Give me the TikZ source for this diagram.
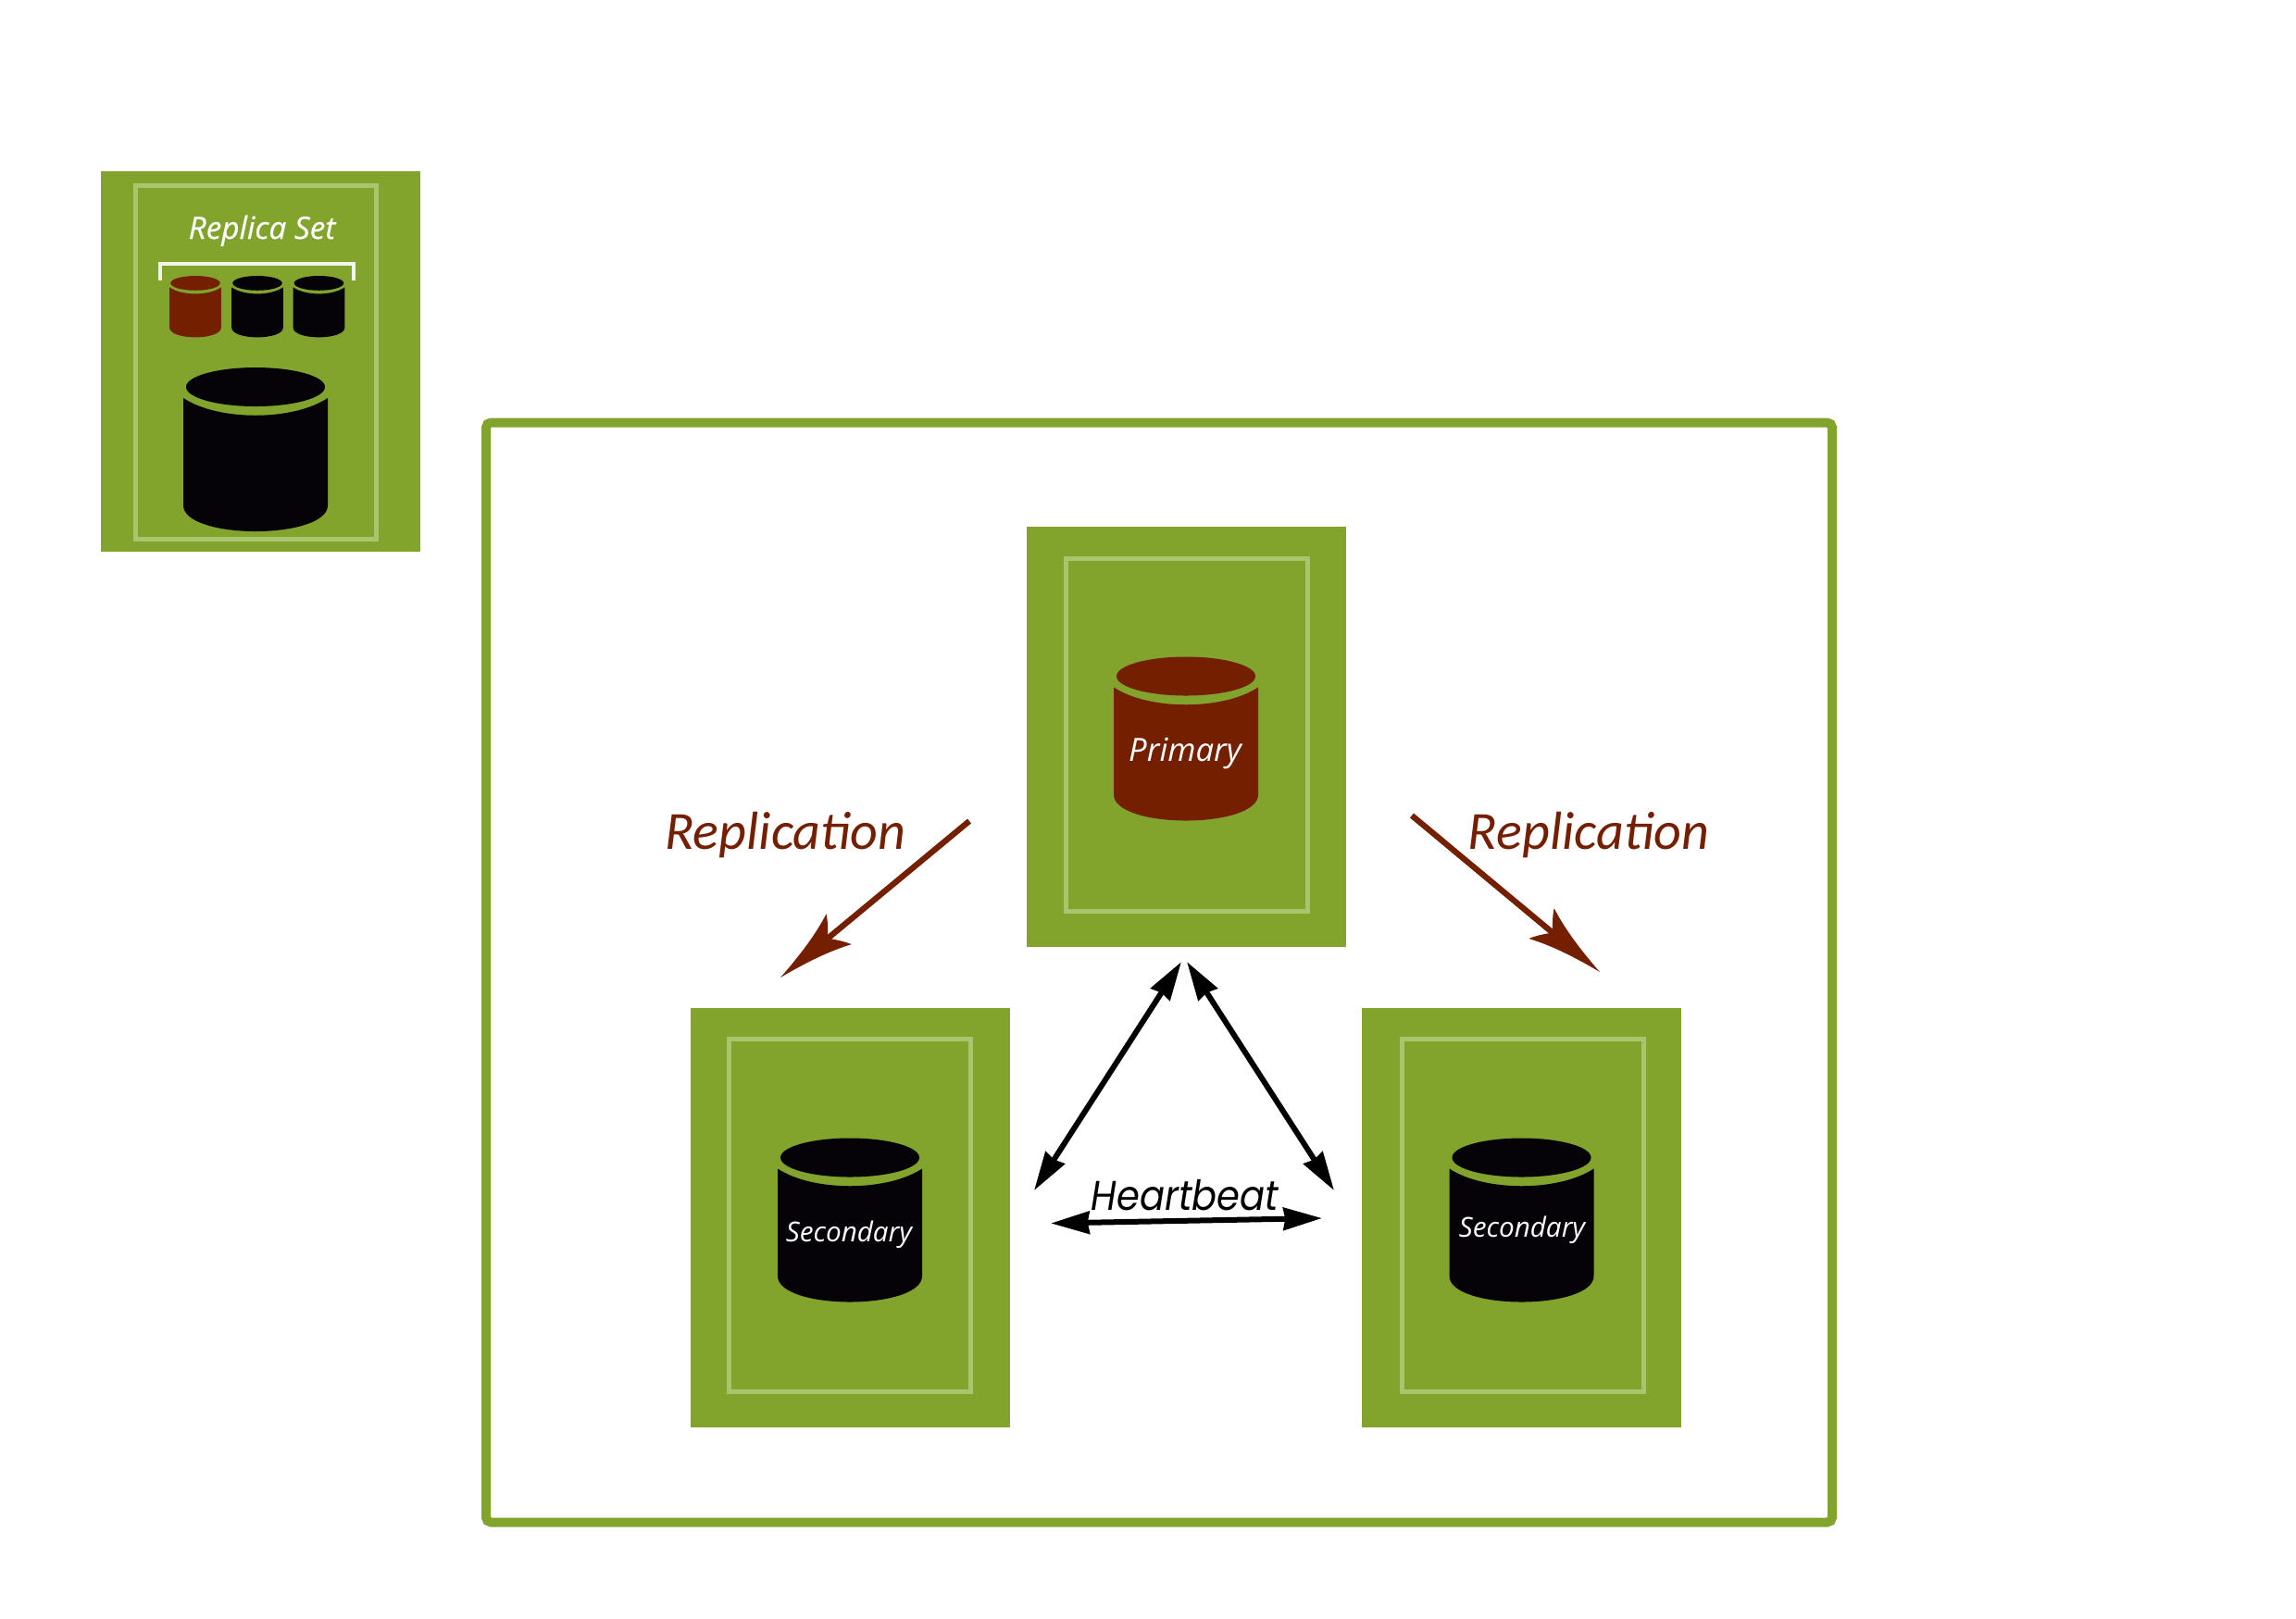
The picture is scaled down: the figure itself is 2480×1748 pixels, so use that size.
\documentclass[tikz,border=0pt]{standalone}
\usepackage{fontspec}
\usetikzlibrary{arrows.meta}
\setmainfont{Open Sans}
\newfontfamily\calibrifont{Carlito}
\newfontfamily\geofont{Poppins}
\newfontfamily\semifont[ItalicFeatures={FakeBold=0.5}]{Open Sans}
\definecolor{leaf}{RGB}{130,164,45}
\definecolor{leaflight}{RGB}{170,197,110}
\definecolor{rust}{RGB}{116,31,0}
\definecolor{ink}{RGB}{5,2,8}
\pgfdeclarearrow{
  name=BarbTip,
  setup code={\pgfarrowssettipend{0pt}\pgfarrowssetlineend{-18pt}\pgfarrowssetvisualbackend{-20pt}},
  drawing code={
    \pgfpathmoveto{\pgfqpoint{0pt}{0pt}}
    \pgfpathcurveto{\pgfqpoint{-10pt}{1.6pt}}{\pgfqpoint{-18pt}{3.6pt}}{\pgfqpoint{-24.6pt}{6.4pt}}
    \pgfpathcurveto{\pgfqpoint{-23pt}{3.4pt}}{\pgfqpoint{-21pt}{1.4pt}}{\pgfqpoint{-20pt}{0pt}}
    \pgfpathcurveto{\pgfqpoint{-21pt}{-1.4pt}}{\pgfqpoint{-23pt}{-3.4pt}}{\pgfqpoint{-24.6pt}{-6.4pt}}
    \pgfpathcurveto{\pgfqpoint{-18pt}{-3.6pt}}{\pgfqpoint{-10pt}{-1.6pt}}{\pgfqpoint{0pt}{0pt}}
    \pgfpathclose
    \pgfusepathqfill
  }
}
\tikzset{
  x=0.3pt, y=-0.3pt,
  panel/.style={fill=leaf, draw=none, inner sep=0pt, outer sep=0pt, minimum width=103.5pt, minimum height=136pt},
  smallpanel/.style={fill=leaf, draw=none, inner sep=0pt, outer sep=0pt, minimum width=103.5pt, minimum height=123.3pt},
  innerbox/.style={draw=leaflight, line width=1.5pt, inner sep=0pt, outer sep=0pt, minimum width=78.3pt, minimum height=114.3pt},
  smallinner/.style={draw=leaflight, line width=1.5pt, inner sep=0pt, outer sep=0pt, minimum width=78pt, minimum height=114.6pt},
  dblabel/.style={text=white, font=\itshape, inner sep=0pt},
  replabel/.style={text=rust, inner sep=0pt, anchor=base, font=\calibrifont\itshape\fontsize{17.4pt}{20pt}\selectfont},
  reparrow/.style={draw=rust, line width=1.9pt, -{BarbTip}},
  beatarrow/.style={draw=black, line width=1.8pt, {Stealth[length=12.5pt,width=7.2pt,inset=0.6pt]}-{Stealth[length=12.5pt,width=7.2pt,inset=0.6pt]}},
  pics/dbcyl/.style={code={
    \fill[#1] (-78,33) .. controls (-40,58) and (40,58) .. (78,33)
      -- (78,149) .. controls (78,167) and (40,177) .. (0,177)
      .. controls (-40,177) and (-78,167) .. (-78,149) -- cycle;
    \fill[#1] (0,21) ellipse [x radius=75, y radius=21];
  }}
}
\begin{document}
\begin{tikzpicture}
\useasboundingbox (0,0) rectangle (2480,1748);
\fill[white] (0,0) rectangle (2480,1748);
% legend panel
\node[smallpanel] (legend) at (281.5,390) {};
\node[smallinner] (legendbox) at (276,391.5) {};
\node[text=white, inner sep=0pt, font=\semifont\itshape\fontsize{10pt}{12pt}\selectfont, anchor=base] (legendtitle) at (283,258) {Replica Set};
\draw[white!90!leaf, line width=1.2pt] (173,303) -- (173,285) -- (382,285) -- (382,303);
\pic[xscale=0.357, yscale=0.375] at (211,298) {dbcyl=rust};
\pic[xscale=0.357, yscale=0.375] at (278,298) {dbcyl=ink};
\pic[xscale=0.357, yscale=0.375] at (344.5,298) {dbcyl=ink};
\pic at (276,397) {dbcyl=ink};
% frame
\node[draw=leaf, line width=3pt, rounded corners=1.6pt, inner sep=0pt, outer sep=0pt, minimum width=436.2pt, minimum height=356.4pt] (frame) at (1252,1050.5) {};
% primary
\node[panel] (primary) at (1281.5,796) {};
\node[innerbox] (primarybox) at (1281.5,794) {};
\pic at (1281,709.5) {dbcyl=rust};
\node[dblabel, font=\itshape\fontsize{10.4pt}{12pt}\selectfont] (primarylabel) at (1280,814) {Primary};
% secondary left
\node[panel] (secleft) at (918.5,1315.5) {};
\node[innerbox] (secleftbox) at (918,1313) {};
\pic at (918,1229.5) {dbcyl=ink};
\node[dblabel, font=\itshape\fontsize{8.9pt}{10pt}\selectfont] (secleftlabel) at (917,1334) {Secondary};
% secondary right
\node[panel] (secright) at (1643.5,1315.5) {};
\node[innerbox] (secrightbox) at (1644.5,1313) {};
\pic at (1643.5,1229.5) {dbcyl=ink};
\node[dblabel, font=\itshape\fontsize{8.9pt}{10pt}\selectfont] (secrightlabel) at (1644,1329) {Secondary};
% replication
\node[replabel] (repleft) at (848.5,917) {Replication};
\node[replabel] (repright) at (1716,917) {Replication};
\coordinate (rlstart) at (1047,887);
\coordinate (rlend) at (843,1056);
\coordinate (rrstart) at (1525,881);
\coordinate (rrend) at (1728,1050);
\draw[reparrow] (rlstart) -- (rlend);
\draw[reparrow] (rrstart) -- (rrend);
% heartbeat
\coordinate (hlt) at (1276,1039);
\coordinate (hlb) at (1117,1286);
\coordinate (hrt) at (1282,1039);
\coordinate (hrb) at (1441,1286);
\coordinate (hbl) at (1135,1321.5);
\coordinate (hbr) at (1428,1316);
\draw[beatarrow] (hlb) -- (hlt);
\draw[beatarrow] (hrb) -- (hrt);
\draw[beatarrow] (hbl) -- (hbr);
\node[text=black, inner sep=0pt, anchor=base, font=\geofont\itshape\fontsize{12pt}{14pt}\selectfont] (beat) at (1280,1307) {\scalebox{1}[1.12]{Heartbeat}};
\end{tikzpicture}
\end{document}
